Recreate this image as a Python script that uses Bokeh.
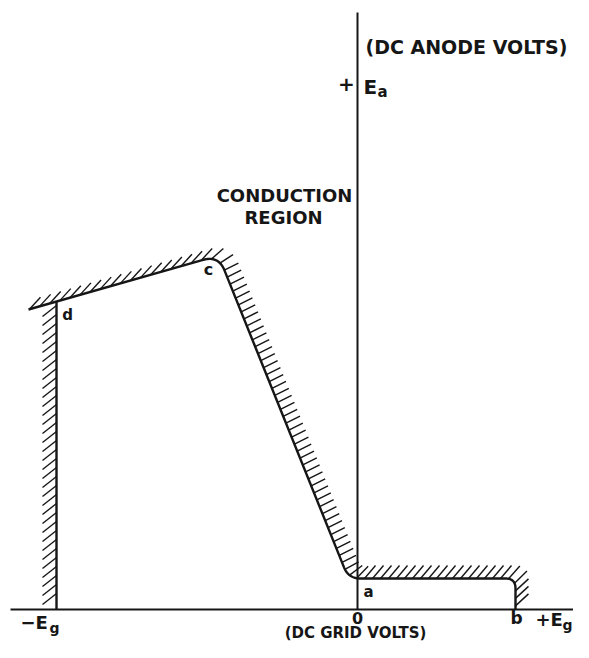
import numpy as np
from bokeh.plotting import figure
from bokeh.models import Range1d
from bokeh.core.properties import value
from bokeh.embed import file_html
from bokeh.resources import INLINE

# ---- data (grid volts, anode volts; arbitrary units, origin at 0,0) ----
crit_grid = [-329, -139, -9, 158, 158]      # critical grid characteristic: start, c, a, b, b-foot
crit_anode = [300, 354, 31, 31, 0]
cutoff_grid = [-301, -301]                  # d line (vertical)
cutoff_anode = [308, 0]
grid_axis = [-347, 232]
anode_axis = [0, 597]

# ---- style ----
FONT = value("DejaVu Sans")
fillet_r = [16, 12, 10]
hatch_vec = [(11, 12), (14, 7), (11, 13), (13, 12)]
hatch_gap = [10.5, 7.5, 8, 7.5]


def dense_path(xs, ys, radii, n=20):
    pts, par = [], []
    P = [np.array([x, y], float) for x, y in zip(xs, ys)]
    pts.append(P[0]); par.append(0.0)
    for i in range(1, len(P) - 1):
        u1 = (P[i] - P[i - 1]) / np.linalg.norm(P[i] - P[i - 1])
        u2 = (P[i + 1] - P[i]) / np.linalg.norm(P[i + 1] - P[i])
        r = radii[i - 1]
        A = P[i] - u1 * r
        B = P[i] + u2 * r
        for t in np.linspace(0, 1, n):
            Q = (1 - t) ** 2 * A + 2 * t * (1 - t) * P[i] + t ** 2 * B
            pts.append(Q); par.append(i - 1 + t)
    pts.append(P[-1]); par.append(float(len(P) - 2))
    pts = np.array(pts)
    return pts[:, 0], pts[:, 1], np.array(par)


def hatch(xs, ys, par, vecs, gaps, start=2.0, end_margin=0.0):
    d = np.r_[0, np.cumsum(np.hypot(np.diff(xs), np.diff(ys)))]
    x0, y0, x1, y1 = [], [], [], []
    s = start
    while s <= d[-1] - end_margin:
        x = np.interp(s, d, xs); y = np.interp(s, d, ys); q = np.interp(s, d, par)
        k = int(min(np.floor(q), len(vecs) - 1)); f = q - k
        k2 = min(k + 1, len(vecs) - 1)
        vx = vecs[k][0] * (1 - f) + vecs[k2][0] * f
        vy = vecs[k][1] * (1 - f) + vecs[k2][1] * f
        g = gaps[k] * (1 - f) + gaps[k2] * f
        x0.append(x); y0.append(y); x1.append(x + vx); y1.append(y + vy)
        s += g
    return x0, y0, x1, y1


p = figure(width=573, height=642, output_backend="svg", toolbar_location=None,
           x_range=Range1d(-357, 216), y_range=Range1d(-33, 609),
           min_border=0, min_border_left=0, min_border_right=0,
           min_border_top=0, min_border_bottom=0)
p.axis.visible = False
p.grid.visible = False
p.outline_line_color = None
p.background_fill_color = "white"
p.border_fill_color = "white"

ink = "#161616"

# axes
p.line(grid_axis, [0, 0], line_color=ink, line_width=2)
p.line([0, 0], anode_axis, line_color=ink, line_width=2)

# main characteristic with rounded corners
cx, cy, cpar = dense_path(crit_grid, crit_anode, fillet_r)
p.line(cx, cy, line_color=ink, line_width=2.4)
hx0, hy0, hx1, hy1 = hatch(cx, cy, cpar, hatch_vec, hatch_gap, start=1.0, end_margin=2)
p.segment(hx0, hy0, hx1, hy1, line_color=ink, line_width=1.4)

# cutoff line d
p.line(cutoff_grid, cutoff_anode, line_color=ink, line_width=2.4)
dx = np.array(cutoff_grid, float); dy = np.array(cutoff_anode, float)
lx0, ly0, lx1, ly1 = hatch(dx, dy, np.array([0.0, 0.0]),
                           [(-14, -11)], [9], start=4.0, end_margin=8)
p.segment(lx0, ly0, lx1, ly1, line_color=ink, line_width=1.4)

# labels
def txt(x, y, s, size, align="center", baseline="middle"):
    p.text([x], [y], text=[s], text_font=FONT, text_font_size=f"{size}px",
           text_font_style="bold",
           text_align=align, text_baseline=baseline, text_color=ink)

txt(8, 563, "(DC ANODE VOLTS)", 19, "left")
txt(-11, 526, "+", 20)
txt(6, 523, "E", 20, "left")
txt(20, 518, "a", 15, "left")
txt(-73, 414, "CONDUCTION", 18)
txt(-74, 392, "REGION", 18)
txt(-149, 340, "c", 16)
txt(-290, 295, "d", 15)
txt(11, 18, "a", 15)
txt(0, -8, "0", 16)
txt(159, -8, "b", 17)
txt(178, -10, "+E", 18, "left")
txt(205, -15, "g", 14, "left")
txt(-337, -13, "\u2212E", 18, "left")
txt(-308, -18, "g", 14, "left")
txt(-2, -32, "(DC GRID VOLTS)", 15, "center", "bottom")

open("out.html", "w").write(file_html(p, INLINE))
